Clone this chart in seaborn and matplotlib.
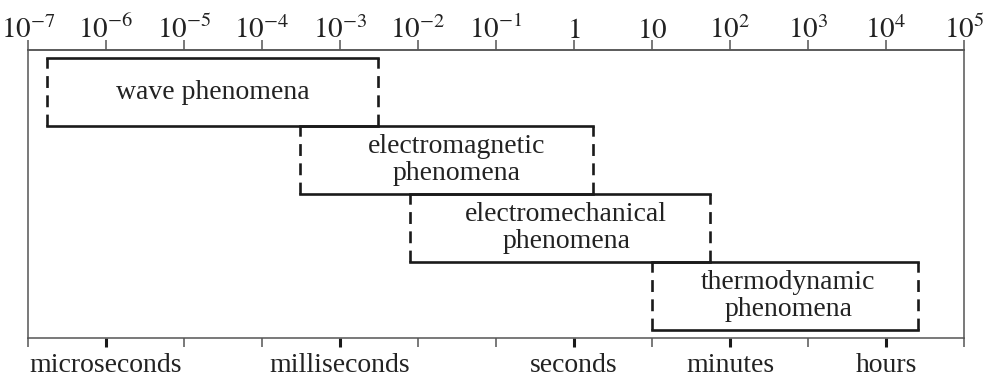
import numpy as np
import pandas as pd
import seaborn as sns
import matplotlib.pyplot as plt

# time scale ranges (seconds) for each phenomenon group
names = ["wave phenomena", "electromagnetic\nphenomena",
         "electromechanical\nphenomena", "thermodynamic\nphenomena"]
t_start = [1.75e-7, 3.1e-4, 8.0e-3, 10.0]
t_end = [3.1e-3, 1.75, 55.0, 2.6e4]
row_bottom = [3.118, 2.118, 1.118, 0.118]
row_top = [4.118, 3.118, 2.118, 1.118]

top_ticks = [1e-7, 1e-6, 1e-5, 1e-4, 1e-3, 1e-2, 1e-1, 1, 10, 1e2, 1e3, 1e4, 1e5]
top_labels = [r"$10^{-7}$", r"$10^{-6}$", r"$10^{-5}$", r"$10^{-4}$", r"$10^{-3}$",
              r"$10^{-2}$", r"$10^{-1}$", r"$1$", r"$10$", r"$10^{2}$", r"$10^{3}$",
              r"$10^{4}$", r"$10^{5}$"]
unit_ticks = [1e-6, 1e-3, 1, 1e2, 1e4]
unit_labels = ["microseconds", "milliseconds", "seconds", "minutes", "hours"]

sns.set_style("white")
plt.rcParams["font.family"] = ["Liberation Serif", "DejaVu Serif"]
plt.rcParams["mathtext.fontset"] = "stix"

ink = "#1a1a1a"
axis_col = "#555555"

# solid horizontal edges and dashed vertical edges of each box
solid = []
dashed = []
for i in range(len(names)):
    solid += [(f"b{i}", t_start[i], row_bottom[i]), (f"b{i}", t_end[i], row_bottom[i]),
              (f"t{i}", t_start[i], row_top[i]), (f"t{i}", t_end[i], row_top[i])]
    dashed += [(f"l{i}", t_start[i], row_bottom[i]), (f"l{i}", t_start[i], row_top[i]),
               (f"r{i}", t_end[i], row_bottom[i]), (f"r{i}", t_end[i], row_top[i])]
df_solid = pd.DataFrame(solid, columns=["edge", "t", "y"])
df_dashed = pd.DataFrame(dashed, columns=["edge", "t", "y"])

fig = plt.figure(figsize=(9.87, 3.81), dpi=100)
ax = fig.add_axes([0.02837, 0.1129, 0.9483, 0.7559])
ax.set_xscale("log")

sns.lineplot(data=df_dashed, x="t", y="y", units="edge", estimator=None, sort=False,
             color=ink, lw=1.9, linestyle=(0, (4.5, 2.8)), legend=False, ax=ax)
sns.lineplot(data=df_solid, x="t", y="y", units="edge", estimator=None, sort=False,
             color=ink, lw=1.9, solid_capstyle="projecting", legend=False, ax=ax)

# label offsets (in decades) to follow the original placement
label_shift = [0.0, 0.13, 0.08, 0.04]
for i, name in enumerate(names):
    xc = np.sqrt(t_start[i] * t_end[i]) * 10 ** label_shift[i]
    yc = (row_bottom[i] + row_top[i]) / 2
    ax.text(xc, yc, name, ha="center", va="center",
            fontsize=20, color="#222222", linespacing=1.12)

ax.set_xlim(1e-7, 1e5)
ax.set_ylim(0, 4.236)
ax.set_xlabel("")
ax.set_ylabel("")
ax.set_yticks([])

for s in ax.spines.values():
    s.set_color(axis_col)
    s.set_linewidth(1.1)
    s.set_visible(True)

# bottom axis: thin ticks every decade, thick ticks at unit names
ax.set_xticks(unit_ticks)
ax.set_xticklabels(unit_labels)
ax.set_xticks(top_ticks, minor=True)
ax.xaxis.set_minor_formatter(plt.NullFormatter())
ax.tick_params(axis="x", which="major", bottom=True, direction="out", length=6.5,
               width=2.2, color=ink, pad=4, labelsize=20, labelcolor="#222222")
ax.tick_params(axis="x", which="minor", bottom=True, direction="out", length=6.5,
               width=1.1, color=axis_col)

# top axis with the decade scale
top = ax.secondary_xaxis("top")
top.set_xticks(top_ticks)
top.set_xticklabels(top_labels)
top.xaxis.set_minor_locator(plt.NullLocator())
top.spines["top"].set_color(axis_col)
top.spines["top"].set_linewidth(1.1)
top.tick_params(axis="x", direction="out", length=7, width=1.1, color=axis_col,
                pad=-2.5, labelsize=21, labelcolor="#222222")

fig.savefig("out.png", dpi=100)
